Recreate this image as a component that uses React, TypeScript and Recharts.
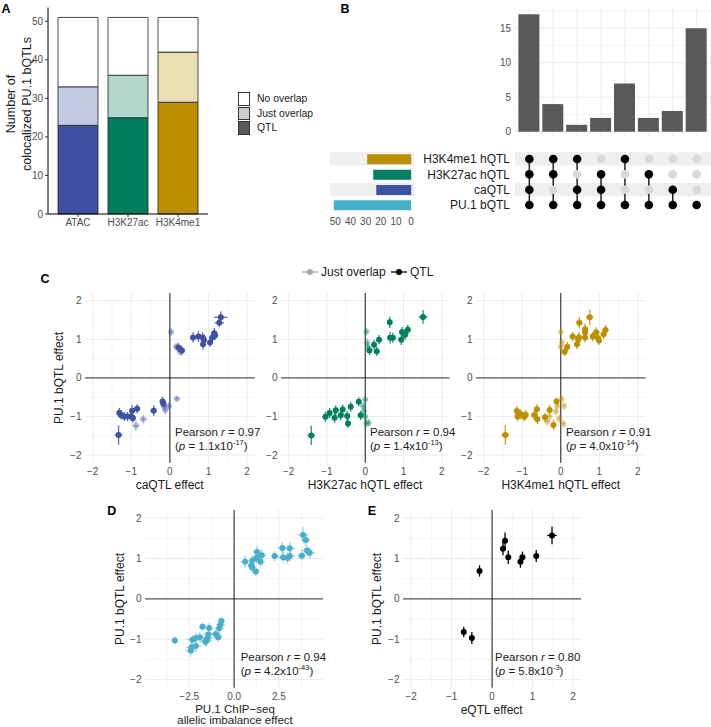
import React from 'react';
import {
  BarChart, Bar, XAxis, YAxis, CartesianGrid, Cell,
  ScatterChart, Scatter, ErrorBar, ReferenceLine, ReferenceArea,
} from 'recharts';

const FONT = '"Liberation Sans", Arial, Helvetica, sans-serif';
const GREY_TICK = '#4d4d4d';
const GRID = '#ebebeb';
const GRID_MINOR = '#f5f5f5';

// ---- colours
const BLUE = '#3f51a3';
const GREEN = '#00805e';
const GOLD = '#bb8f00';
const CYAN = '#48afca';

// ---- panel A
const assays = ['ATAC', 'H3K27ac', 'H3K4me1'];
const qtlCounts = [23, 25, 29];
const justOverlapCounts = [10, 11, 13];
const noOverlapCounts = [18, 15, 9];
const countTicks = [0, 10, 20, 30, 40, 50];
const assayColors = [BLUE, GREEN, GOLD];
const assayLightColors = ['#c5cae3', '#b2d8cd', '#eadfb2'];
const legendALabels = ['No overlap', 'Just overlap', 'QTL'];
const legendAFills = ['#ffffff', '#cccccc', '#595959'];

// ---- panel B (upset)
const setNames = ['PU.1 bQTL', 'caQTL', 'H3K27ac hQTL', 'H3K4me1 hQTL']; // bottom -> top
const setSizes = [51, 23, 25, 29];
const setColors = [CYAN, BLUE, GREEN, GOLD];
const intersectionCounts = [17, 4, 1, 2, 7, 2, 3, 15];
// membership per intersection column, ordered like setNames
const membership = [
  [1, 1, 1, 1],
  [1, 0, 1, 1],
  [1, 1, 0, 1],
  [1, 1, 1, 0],
  [1, 0, 0, 1],
  [1, 0, 1, 0],
  [1, 1, 0, 0],
  [1, 0, 0, 0],
];
const intersectionTicks = [0, 5, 10, 15];
const intersectionMinor = [2.5, 7.5, 12.5, 17.5];
const setSizeTicks = [0, 10, 20, 30, 40, 50];

// ---- panels C-E, points are [x, y, xErr, yErr]
type Pt = [number, number, number, number];
const effectTicks = [-2, -1, 0, 1, 2];
const effectMinor = [-1.5, -0.5, 0.5, 1.5];

const caQtlPoints: Pt[] = [
  [1.32, 1.57, 0.17, 0.15], [1.28, 1.43, 0.12, 0.12], [0.60, 1.05, 0.08, 0.13],
  [0.74, 1.07, 0.08, 0.14], [0.85, 1.05, 0.08, 0.13], [0.88, 0.98, 0.08, 0.12],
  [0.86, 0.87, 0.08, 0.14], [1.04, 0.92, 0.08, 0.12], [1.10, 1.05, 0.09, 0.12],
  [1.15, 1.16, 0.09, 0.13], [1.17, 1.10, 0.08, 0.12], [0.22, 0.79, 0.07, 0.12],
  [0.31, 0.71, 0.07, 0.12], [-0.19, -0.61, 0.07, 0.12], [-0.17, -0.67, 0.07, 0.10],
  [-0.42, -0.85, 0.08, 0.14], [-0.85, -0.80, 0.08, 0.12], [-0.98, -0.85, 0.08, 0.14],
  [-1.01, -1.00, 0.09, 0.12], [-1.10, -1.00, 0.08, 0.12], [-1.18, -1.00, 0.08, 0.12],
  [-1.27, -0.96, 0.08, 0.12], [-1.31, -0.90, 0.08, 0.12], [-1.33, -1.48, 0.10, 0.25],
  [-0.96, -1.04, 0.08, 0.12],
];
const caOverlapPoints: Pt[] = [
  [0.03, 1.19, 0.06, 0.10], [0.16, 0.81, 0.07, 0.10], [0.26, 0.68, 0.07, 0.10],
  [0.18, -0.54, 0.07, 0.08], [-0.03, -0.73, 0.07, 0.10], [-0.12, -0.83, 0.07, 0.12],
  [-0.15, -0.74, 0.07, 0.10], [-0.69, -1.07, 0.10, 0.12], [-0.88, -1.24, 0.10, 0.15],
];
const k27QtlPoints: Pt[] = [
  [1.51, 1.58, 0.12, 0.18], [0.64, 1.44, 0.06, 0.15], [1.11, 1.25, 0.07, 0.13],
  [0.96, 1.19, 0.07, 0.13], [1.04, 1.12, 0.07, 0.13], [0.65, 1.04, 0.07, 0.15],
  [0.72, 1.04, 0.07, 0.13], [0.94, 0.99, 0.07, 0.14], [0.36, 0.99, 0.07, 0.12],
  [0.23, 0.86, 0.06, 0.13], [0.11, 0.71, 0.06, 0.12], [0.30, 0.69, 0.06, 0.12],
  [-0.17, -0.62, 0.07, 0.12], [-0.38, -0.75, 0.07, 0.13], [-0.59, -0.82, 0.07, 0.13],
  [-0.77, -0.84, 0.07, 0.13], [-0.93, -0.91, 0.07, 0.13], [-1.04, -1.01, 0.08, 0.13],
  [-0.80, -1.03, 0.07, 0.13], [-0.64, -0.97, 0.07, 0.13], [-0.47, -0.99, 0.07, 0.13],
  [-0.45, -1.18, 0.07, 0.12], [-0.12, -0.97, 0.06, 0.12], [-1.41, -1.49, 0.10, 0.25],
];
const k27OverlapPoints: Pt[] = [
  [0.03, 1.20, 0.05, 0.10], [0.05, 0.91, 0.05, 0.12], [0.07, 0.80, 0.05, 0.12],
  [0.00, -0.56, 0.05, 0.10], [-0.06, -0.73, 0.05, 0.10], [-0.03, -0.85, 0.05, 0.12],
  [0.00, -1.01, 0.05, 0.12], [0.03, -1.18, 0.05, 0.10], [0.09, -1.16, 0.06, 0.10],
];
const k4QtlPoints: Pt[] = [
  [0.75, 1.57, 0.10, 0.20], [0.48, 1.43, 0.08, 0.15], [0.63, 1.26, 0.08, 0.15],
  [0.63, 1.18, 0.07, 0.13], [0.92, 1.18, 0.08, 0.13], [1.16, 1.24, 0.08, 0.13],
  [1.11, 1.13, 0.07, 0.13], [0.83, 1.07, 0.07, 0.12], [0.97, 1.03, 0.07, 0.13],
  [0.99, 0.97, 0.07, 0.12], [0.31, 1.07, 0.08, 0.12], [0.47, 1.05, 0.07, 0.13],
  [0.45, 0.99, 0.07, 0.13], [0.63, 1.05, 0.07, 0.13], [0.42, 0.87, 0.07, 0.13],
  [0.17, 0.81, 0.06, 0.12], [0.10, 0.68, 0.06, 0.12], [-0.11, -0.61, 0.06, 0.10],
  [-0.29, -0.83, 0.07, 0.13], [-0.62, -0.81, 0.07, 0.13], [-0.69, -0.96, 0.07, 0.13],
  [-0.61, -1.07, 0.07, 0.13], [-0.41, -1.02, 0.07, 0.12], [-0.19, -1.22, 0.06, 0.13],
  [-1.14, -0.86, 0.07, 0.13], [-1.12, -1.00, 0.07, 0.13], [-1.04, -0.94, 0.07, 0.13],
  [-0.95, -1.00, 0.07, 0.13], [-0.91, -0.96, 0.07, 0.13], [-1.44, -1.48, 0.10, 0.25],
];
const k4OverlapPoints: Pt[] = [
  [0.00, 1.19, 0.05, 0.10], [0.03, 0.92, 0.05, 0.12], [0.00, 0.80, 0.05, 0.12],
  [0.02, -0.55, 0.05, 0.10], [0.09, -0.73, 0.06, 0.10], [-0.09, -0.73, 0.06, 0.12],
  [-0.13, -0.87, 0.06, 0.12], [-0.30, -1.00, 0.07, 0.13], [-0.35, -1.13, 0.07, 0.13],
  [-0.04, -1.05, 0.05, 0.12], [0.07, -1.19, 0.06, 0.10],
];
const chipPoints: Pt[] = [
  [3.84, 1.58, 0.30, 0.20], [3.99, 1.46, 0.25, 0.15], [4.06, 1.20, 0.30, 0.13],
  [4.21, 1.14, 0.30, 0.13], [3.77, 1.07, 0.25, 0.12], [3.10, 1.25, 0.30, 0.15],
  [2.69, 1.26, 0.25, 0.14], [2.73, 1.03, 0.30, 0.15], [2.97, 1.01, 0.25, 0.13],
  [3.10, 1.06, 0.30, 0.13], [2.26, 1.06, 0.20, 0.12], [1.28, 1.16, 0.25, 0.15],
  [1.54, 1.08, 0.25, 0.15], [1.47, 0.92, 0.25, 0.12], [1.24, 1.01, 0.25, 0.13],
  [0.61, 0.92, 0.25, 0.15], [1.02, 0.95, 0.25, 0.12], [0.96, 0.83, 0.20, 0.13],
  [1.00, 0.78, 0.20, 0.12], [1.21, 0.68, 0.20, 0.12],
  [-0.71, -0.55, 0.20, 0.10], [-0.76, -0.64, 0.25, 0.12], [-0.83, -0.73, 0.25, 0.12],
  [-1.02, -0.87, 0.30, 0.12], [-0.89, -0.95, 0.25, 0.12], [-1.39, -0.72, 0.25, 0.12],
  [-1.76, -0.69, 0.20, 0.10], [-1.43, -0.88, 0.30, 0.15], [-1.47, -0.97, 0.30, 0.13],
  [-1.54, -1.03, 0.30, 0.14], [-2.13, -0.97, 0.30, 0.13], [-2.32, -1.01, 0.30, 0.12],
  [-2.13, -1.17, 0.30, 0.15], [-2.37, -1.20, 0.30, 0.15], [-2.41, -1.28, 0.30, 0.15],
  [-3.30, -1.03, 0.10, 0.10], [-1.60, -1.06, 0.30, 0.12], [-1.91, -0.95, 0.30, 0.12],
];
const eqtlPoints: Pt[] = [
  [1.48, 1.57, 0.12, 0.22], [0.32, 1.44, 0.06, 0.20], [0.27, 1.24, 0.06, 0.16],
  [0.40, 1.03, 0.04, 0.17], [0.70, 0.92, 0.05, 0.15], [0.75, 1.03, 0.05, 0.14],
  [1.09, 1.06, 0.04, 0.15], [-0.31, 0.69, 0.05, 0.14], [-0.70, -0.82, 0.04, 0.13],
  [-0.50, -0.97, 0.04, 0.15],
];
const chipTicks = [-2.5, 0, 2.5];
const chipMinor = [-3.75, -1.25, 1.25, 3.75];

const pearsonR = ['0.97', '0.94', '0.91', '0.94', '0.80'];
const pMantissa = ['1.1', '1.4', '4.0', '4.2', '5.8'];
const pExponent = ['-17', '-13', '-14', '-43', '-3'];
const effectTitles = ['caQTL effect', 'H3K27ac hQTL effect', 'H3K4me1 hQTL effect'];

const fmt = (v: number, digits: number) => (v < 0 ? '\u2212' : '') + Math.abs(v).toFixed(digits);
const toRows = (pts: Pt[]) => pts.map(([x, y, ex, ey]) => ({ x, y, ex, ey }));
const tickStyle = { fill: GREY_TICK, fontSize: 10, fontFamily: FONT };

const dot = (fill: string, opacity: number, r: number) => (p: any) => (
  <circle cx={p.cx} cy={p.cy} r={r} fill={fill} fillOpacity={opacity} />
);

type TxtProps = {
  x: number; y: number; size?: number; anchor?: 'middle' | 'start' | 'end';
  rotate?: boolean; bold?: boolean; color?: string; children: React.ReactNode;
};
const Txt = ({ x, y, size = 12, anchor = 'middle', rotate, bold, color = '#1a1a1a', children }: TxtProps) => {
  const tx = anchor === 'middle' ? '-50%' : anchor === 'end' ? '-100%' : '0';
  return (
    <div
      style={{
        position: 'absolute', left: x, top: y, lineHeight: 1, whiteSpace: 'nowrap',
        transform: `translate(${tx}, -50%)${rotate ? ' rotate(-90deg)' : ''}`,
        fontSize: size, fontWeight: bold ? 700 : 400, color, fontFamily: FONT,
      }}
    >
      {children}
    </div>
  );
};

const Pearson = ({ x, y, i }: { x: number; y: number; i: number }) => (
  <>
    <Txt x={x} y={y} anchor="start" size={11.5}>Pearson <i>r</i> = {pearsonR[i]}</Txt>
    <Txt x={x} y={y + 13.5} anchor="start" size={11.5}>
      (<i>p</i> = {pMantissa[i]}x10
      <sup style={{ fontSize: 7.5, verticalAlign: 'baseline', position: 'relative', top: -4.5 }}>{pExponent[i]}</sup>)
    </Txt>
  </>
);

type Layer = { points: Pt[]; color: string; dotOpacity: number; barOpacity: number };
type EffectProps = {
  box: [number, number, number, number];
  xDomain: [number, number]; xTicks: number[]; xMinor: number[]; digits: number; layers: Layer[];
};

const EffectPlot = ({ box, xDomain, xTicks, xMinor, digits, layers }: EffectProps) => {
  const [left, top, w, h] = box;
  return (
    <div style={{ position: 'absolute', left: left - 40, top: top - 5 }}>
      <ScatterChart width={w + 45} height={h + 30} margin={{ top: 5, right: 5, left: 10, bottom: 5 }}>
        <CartesianGrid stroke={GRID_MINOR} horizontalValues={effectMinor} verticalValues={xMinor} />
        <CartesianGrid stroke={GRID} horizontalValues={effectTicks} verticalValues={xTicks} />
        <XAxis
          type="number" dataKey="x" domain={xDomain} ticks={xTicks} allowDataOverflow height={20} interval={0}
          tickSize={0} tickMargin={5.5} axisLine={false} tickLine={false} tick={tickStyle}
          tickFormatter={(v: number) => fmt(v, digits)}
        />
        <YAxis
          type="number" dataKey="y" domain={[-2.2, 2.2]} ticks={effectTicks} allowDataOverflow width={30} interval={0}
          tickSize={0} tickMargin={3.5} axisLine={false} tickLine={false} tick={tickStyle}
          tickFormatter={(v: number) => fmt(v, 0)}
        />
        <ReferenceLine y={0} stroke="#595959" strokeWidth={1.4} />
        <ReferenceLine x={0} stroke="#1a1a1a" strokeWidth={1} />
        {layers.map((l, i) => (
          <Scatter key={i} data={toRows(l.points)} isAnimationActive={false} shape={dot(l.color, l.dotOpacity, 3)}>
            <ErrorBar dataKey="ex" direction="x" width={0} stroke={l.color} strokeOpacity={l.barOpacity} strokeWidth={1.3} isAnimationActive={false} />
            <ErrorBar dataKey="ey" direction="y" width={0} stroke={l.color} strokeOpacity={l.barOpacity} strokeWidth={1.3} isAnimationActive={false} />
          </Scatter>
        ))}
      </ScatterChart>
    </div>
  );
};

const PanelA = () => {
  const data = assays.map((name, i) => ({
    name, qtl: qtlCounts[i], just: justOverlapCounts[i], none: noOverlapCounts[i],
  }));
  return (
    <div style={{ position: 'absolute', left: 0, top: 0 }}>
      <BarChart width={215} height={239} data={data} margin={{ top: 7.6, right: 7, left: 0, bottom: 5 }} barSize={40}>
        <XAxis
          dataKey="name" padding={{ left: 5, right: 5 }} height={20} tickSize={3} tickMargin={2} interval={0}
          axisLine={{ stroke: '#000' }} tickLine={{ stroke: '#333' }} tick={tickStyle}
        />
        <YAxis
          type="number" domain={[0, 53.55]} ticks={countTicks} width={48} tickSize={3} tickMargin={2} interval={0}
          axisLine={{ stroke: '#000' }} tickLine={{ stroke: '#333' }} tick={tickStyle}
        />
        <Bar dataKey="qtl" stackId="a" stroke="#222" strokeWidth={0.8} isAnimationActive={false}>
          {assayColors.map((c, i) => <Cell key={i} fill={c} />)}
        </Bar>
        <Bar dataKey="just" stackId="a" stroke="#222" strokeWidth={0.8} isAnimationActive={false}>
          {assayLightColors.map((c, i) => <Cell key={i} fill={c} />)}
        </Bar>
        <Bar dataKey="none" stackId="a" fill="#ffffff" stroke="#222" strokeWidth={0.8} isAnimationActive={false} />
      </BarChart>
    </div>
  );
};

const cols = intersectionCounts.map((_, i) => i + 1);
const rows = setNames.map((_, i) => i + 1);

const PanelB = () => {
  const barData = intersectionCounts.map((count, i) => ({ col: i + 1, count }));
  const sizeData = setSizes.map((size, i) => ({ row: i + 1, size }));
  const onPts: { col: number; row: number }[] = [];
  const offPts: { col: number; row: number }[] = [];
  membership.forEach((m, c) => m.forEach((v, r) => (v ? onPts : offPts).push({ col: c + 1, row: r + 1 })));
  const stripeRows = rows.filter((r) => r % 2 === 0);
  return (
    <>
      <div style={{ position: 'absolute', left: 460, top: 0 }}>
        <BarChart width={251} height={141.7} data={barData} margin={{ top: 8.5, right: 0, left: 0, bottom: 5 }}>
          <CartesianGrid stroke={GRID_MINOR} horizontalValues={intersectionMinor} vertical={false} />
          <CartesianGrid stroke={GRID} horizontalValues={intersectionTicks} verticalValues={cols} />
          <XAxis type="number" dataKey="col" domain={[0.4, 8.6]} ticks={cols} hide />
          <YAxis
            type="number" domain={[-0.72, 17.85]} ticks={intersectionTicks} width={55} tickSize={0} tickMargin={4}
            axisLine={false} tickLine={false} tick={tickStyle} interval={0}
          />
          <Bar dataKey="count" fill="#595959" barSize={21} isAnimationActive={false} />
        </BarChart>
      </div>

      <div style={{ position: 'absolute', left: 325.5, top: 140 }}>
        <BarChart layout="vertical" width={88.5} height={94.7} data={sizeData} margin={{ top: 11.3, right: 0, left: 4, bottom: 2 }}>
          {stripeRows.map((r) => (
            <ReferenceArea key={r} y1={r - 0.43} y2={r + 0.43} fill="#efefef" fillOpacity={1} stroke="none" />
          ))}
          <XAxis
            type="number" domain={[-2.2, 53.5]} reversed ticks={setSizeTicks} height={20} tickSize={0} tickMargin={5.7}
            axisLine={false} tickLine={false} tick={tickStyle} interval={0}
          />
          <YAxis type="number" dataKey="row" domain={[0.5, 4.5]} ticks={rows} reversed hide />
          <Bar dataKey="size" barSize={10} isAnimationActive={false}>
            {setColors.map((c, i) => <Cell key={i} fill={c} />)}
          </Bar>
        </BarChart>
      </div>

      <div style={{ position: 'absolute', left: 385, top: 140 }}>
        <ScatterChart width={326} height={80} margin={{ top: 11.3, right: 0, left: 0, bottom: 7.3 }}>
          {stripeRows.map((r) => (
            <ReferenceArea key={r} y1={r - 0.43} y2={r + 0.43} fill="#efefef" fillOpacity={1} stroke="none" />
          ))}
          <XAxis type="number" dataKey="col" domain={[0.4, 8.6]} hide />
          <YAxis
            type="number" dataKey="row" domain={[0.5, 4.5]} ticks={rows} width={130} tickSize={0} tickMargin={5}
            axisLine={false} tickLine={false} tick={{ fill: '#1a1a1a', fontSize: 12, fontFamily: FONT }}
            interval={0} tickFormatter={(v: number) => setNames[v - 1]}
          />
          <Scatter data={offPts} isAnimationActive={false} shape={dot('#d9d9d9', 1, 4.3)} />
          {membership.map((m, c) => {
            const topRow = m.lastIndexOf(1) + 1;
            return topRow > 1 ? (
              <ReferenceLine
                key={c}
                segment={[{ x: c + 1, y: 1 }, { x: c + 1, y: topRow }]}
                stroke="#222" strokeWidth={1.5}
              />
            ) : null;
          })}
          <Scatter data={onPts} isAnimationActive={false} shape={dot('#000000', 1, 4.3)} />
        </ScatterChart>
      </div>
    </>
  );
};

const LegendKey = ({ x, y, color }: { x: number; y: number; color: string }) => (
  <svg width={16} height={10} style={{ position: 'absolute', left: x - 8, top: y - 5 }}>
    <line x1={0} y1={5} x2={16} y2={5} stroke={color} strokeWidth={1.3} />
    <circle cx={8} cy={5} r={3} fill={color} />
  </svg>
);

const App = () => {
  const cPlots: { box: [number, number, number, number]; qtl: Pt[]; overlap: Pt[]; color: string }[] = [
    { box: [84.8, 292.8, 169.8, 169.8], qtl: caQtlPoints, overlap: caOverlapPoints, color: BLUE },
    { box: [280.8, 292.8, 168.5, 169.8], qtl: k27QtlPoints, overlap: k27OverlapPoints, color: GREEN },
    { box: [476, 292.8, 169.6, 169.8], qtl: k4QtlPoints, overlap: k4OverlapPoints, color: GOLD },
  ];
  const cTitleX = [169.7, 365, 560.8];
  const cNoteX = [175, 370, 566];

  return (
    <div style={{ position: 'absolute', left: 0, top: 0, width: 711, height: 727, background: '#fff', fontFamily: FONT, overflow: 'hidden' }}>
      <PanelA />
      <PanelB />

      {cPlots.map((p, i) => (
        <EffectPlot
          key={i} box={p.box} xDomain={[-2.2, 2.2]} xTicks={effectTicks} xMinor={effectMinor} digits={0}
          layers={[
            { points: p.overlap, color: p.color, dotOpacity: 0.35, barOpacity: 0.35 },
            { points: p.qtl, color: p.color, dotOpacity: 1, barOpacity: 0.85 },
          ]}
        />
      ))}

      <EffectPlot
        box={[145, 509.8, 178, 177.7]} xDomain={[-4.96, 4.95]} xTicks={chipTicks} xMinor={chipMinor} digits={1}
        layers={[{ points: chipPoints, color: CYAN, dotOpacity: 1, barOpacity: 0.55 }]}
      />
      <EffectPlot
        box={[402.6, 509.8, 178.2, 177.7]} xDomain={[-2.2, 2.2]} xTicks={effectTicks} xMinor={effectMinor} digits={0}
        layers={[{ points: eqtlPoints, color: '#000000', dotOpacity: 1, barOpacity: 1 }]}
      />

      {/* panel letters */}
      <Txt x={6} y={9} size={12.5} bold color="#000">A</Txt>
      <Txt x={345} y={8.5} size={12.5} bold color="#000">B</Txt>
      <Txt x={45} y={279} size={12.5} bold color="#000">C</Txt>
      <Txt x={111.7} y={510.5} size={12.5} bold color="#000">D</Txt>
      <Txt x={372} y={510.5} size={12.5} bold color="#000">E</Txt>

      {/* panel A titles + legend */}
      <Txt x={11} y={104} size={12.5} rotate>Number of</Txt>
      <Txt x={26.5} y={104} size={12.5} rotate>colocalized PU.1 bQTLs</Txt>
      {legendALabels.map((label, i) => (
        <React.Fragment key={label}>
          <div
            style={{
              position: 'absolute', left: 238, top: 92 + i * 14.5, width: 12, height: 13.5,
              background: legendAFills[i], border: '1px solid #333', boxSizing: 'border-box',
            }}
          />
          <Txt x={257} y={99 + i * 14.5} anchor="start" size={10.4}>{label}</Txt>
        </React.Fragment>
      ))}

      {/* panel C legend */}
      <LegendKey x={309.5} y={272} color="#a6a6a6" />
      <Txt x={321} y={272} anchor="start" size={12}>Just overlap</Txt>
      <LegendKey x={398.5} y={272} color="#000" />
      <Txt x={410} y={272} anchor="start" size={12}>QTL</Txt>

      {/* panel C axis titles + stats */}
      <Txt x={59} y={378} rotate>PU.1 bQTL effect</Txt>
      {effectTitles.map((t, i) => (
        <Txt key={t} x={cTitleX[i]} y={485}>{t}</Txt>
      ))}
      {cNoteX.map((x, i) => <Pearson key={i} x={x} y={433.3} i={i} />)}

      {/* panel D */}
      <Txt x={120} y={598.7} rotate>PU.1 bQTL effect</Txt>
      <Txt x={235} y={709.5} size={11.5}>PU.1 ChIP{'\u2212'}seq</Txt>
      <Txt x={235} y={721} size={11.5}>allelic imbalance effect</Txt>
      <Pearson x={240.7} y={658.3} i={3} />

      {/* panel E */}
      <Txt x={376.7} y={598.7} rotate>PU.1 bQTL effect</Txt>
      <Txt x={491.7} y={710}>eQTL effect</Txt>
      <Pearson x={495} y={658.3} i={4} />
    </div>
  );
};

export default App;
